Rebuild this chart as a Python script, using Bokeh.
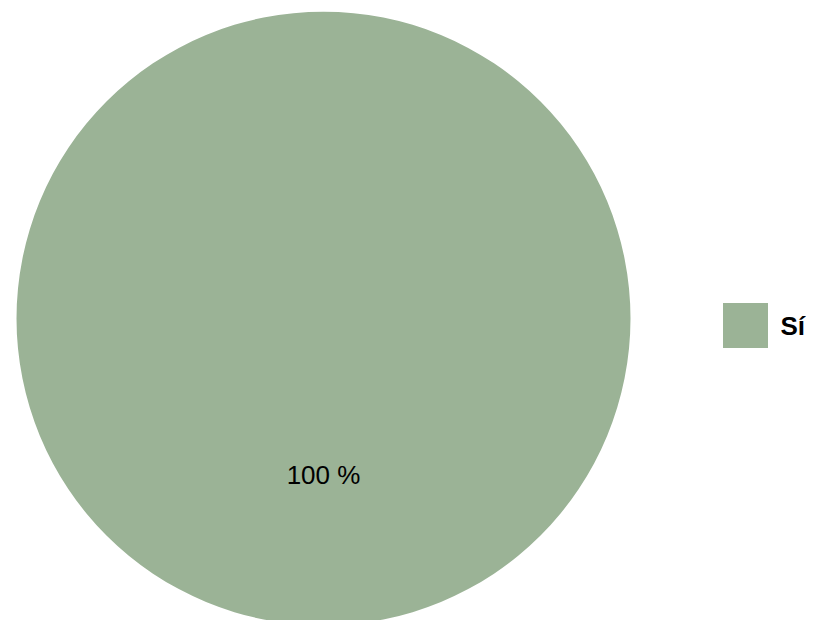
import math
from bokeh.plotting import figure
from bokeh.models import Range1d, ColumnDataSource
from bokeh.core.properties import value
from bokeh.embed import file_html
from bokeh.resources import INLINE

# data
categories = ["Sí"]
shares = [100]
colors = ["#9bb396"]

total = sum(shares)
starts, ends, acc = [], [], 0.0
for s in shares:
    starts.append(acc / total * 2 * math.pi)
    acc += s
    ends.append(acc / total * 2 * math.pi)

W, H = 806, 620
p = figure(width=W, height=H, output_backend="svg", toolbar_location=None,
           x_range=Range1d(0, W), y_range=Range1d(H, 0), min_border=0)
p.axis.visible = False
p.grid.visible = False
p.outline_line_color = None

cx, cy, r = 323, 318, 307
src = ColumnDataSource(dict(start=starts, end=ends, color=colors, cat=categories,
                            label=[f"{s} %" for s in shares]))
p.wedge(x=cx, y=cy, radius=r, start_angle="start", end_angle="end",
        direction="clock", fill_color="color", line_color=None, source=src)

p.text(x=[cx], y=[cy + 156], text=[f"{shares[0]} %"], text_align="center",
       text_baseline="middle", text_font=value("Liberation Sans"),
       text_font_size="26px", text_color="#000000")

# legend
for i, (c, col) in enumerate(zip(categories, colors)):
    y = 325 + i * 40
    p.rect(x=[745], y=[y], width=45, height=45, fill_color=col, line_color=None)
    p.text(x=[780], y=[y], text=[c], text_baseline="middle",
           text_font=value("Liberation Sans"), text_font_style="bold",
           text_font_size="26px", text_color="#000000")

open("out.html", "w").write(file_html(p, INLINE))
